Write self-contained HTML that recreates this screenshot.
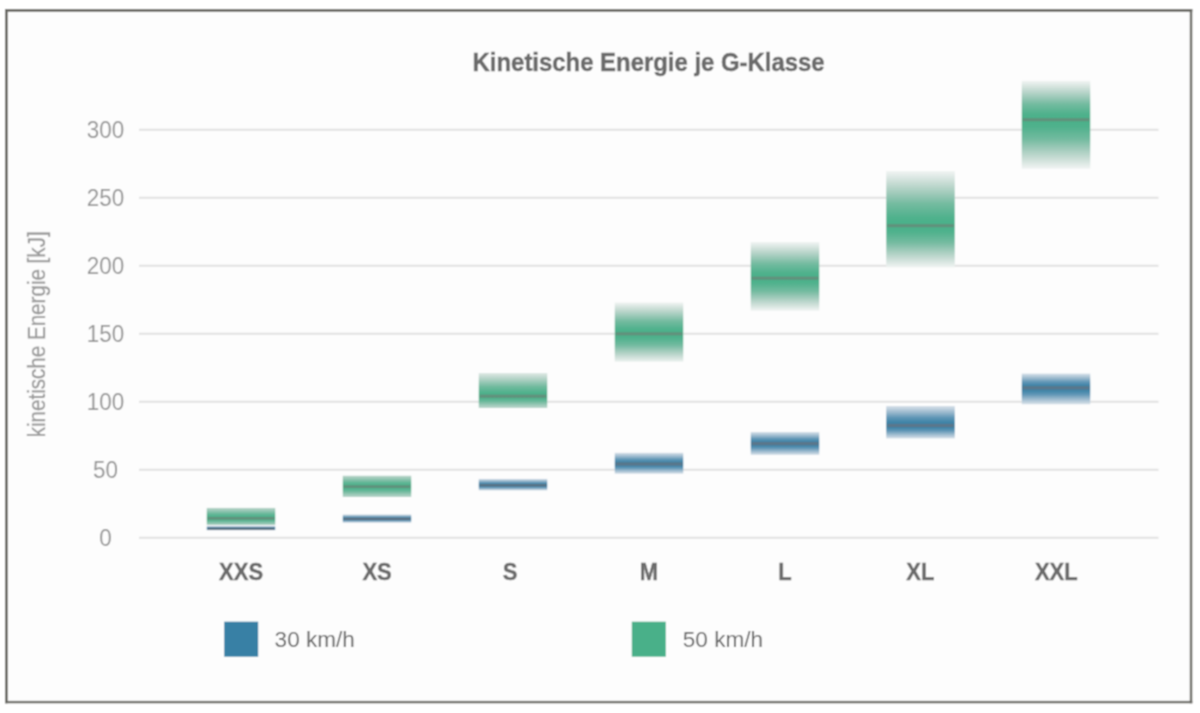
<!DOCTYPE html>
<html><head><meta charset="utf-8"><style>
html,body{margin:0;padding:0;background:#fff;}
svg{display:block;}
text{font-family:"Liberation Sans",sans-serif;}
.yl{font-size:22px;fill:#959595;}
.xl{font-size:22px;font-weight:bold;fill:#6b6b6b;stroke:#6b6b6b;stroke-width:0.4px;}
.lg{font-size:22px;fill:#666666;}
.ttl{font-size:26px;font-weight:bold;fill:#6b6b6b;stroke:#6b6b6b;stroke-width:0.5px;}
.yt{font-size:22.5px;fill:#9a9a9a;stroke:#9a9a9a;stroke-width:0.3px;}
</style></head><body>
<svg width="1200" height="713" viewBox="0 0 1200 713">
<defs><filter id="bl" filterUnits="userSpaceOnUse" x="0" y="0" width="1200" height="713"><feConvolveMatrix order="3" kernelMatrix="1 2 1 2 4 2 1 2 1" divisor="16" edgeMode="duplicate"/></filter><linearGradient id="b0" x1="0" y1="0" x2="0" y2="1"><stop offset="0.0000" stop-color="#5582a7" stop-opacity="0.220"/><stop offset="0.1924" stop-color="#4a81a6" stop-opacity="0.523"/><stop offset="0.3848" stop-color="#3e80a6" stop-opacity="0.827"/><stop offset="0.5451" stop-color="#3880a5" stop-opacity="0.974"/><stop offset="0.6413" stop-color="#3780a5" stop-opacity="1.000"/><stop offset="0.6413" stop-color="#3780a5" stop-opacity="1.000"/><stop offset="0.6951" stop-color="#3880a5" stop-opacity="0.974"/><stop offset="0.7848" stop-color="#3e80a6" stop-opacity="0.827"/><stop offset="0.8924" stop-color="#4a81a6" stop-opacity="0.523"/><stop offset="1.0000" stop-color="#5582a7" stop-opacity="0.220"/></linearGradient><linearGradient id="b1" x1="0" y1="0" x2="0" y2="1"><stop offset="0.0000" stop-color="#5582a7" stop-opacity="0.220"/><stop offset="0.1607" stop-color="#4a81a6" stop-opacity="0.523"/><stop offset="0.3214" stop-color="#3e80a6" stop-opacity="0.827"/><stop offset="0.4554" stop-color="#3880a5" stop-opacity="0.974"/><stop offset="0.5357" stop-color="#3780a5" stop-opacity="1.000"/><stop offset="0.5357" stop-color="#3780a5" stop-opacity="1.000"/><stop offset="0.6054" stop-color="#3880a5" stop-opacity="0.974"/><stop offset="0.7214" stop-color="#3e80a6" stop-opacity="0.827"/><stop offset="0.8607" stop-color="#4a81a6" stop-opacity="0.523"/><stop offset="1.0000" stop-color="#5582a7" stop-opacity="0.220"/></linearGradient><linearGradient id="b2" x1="0" y1="0" x2="0" y2="1"><stop offset="0.0000" stop-color="#5582a7" stop-opacity="0.220"/><stop offset="0.1642" stop-color="#4a81a6" stop-opacity="0.523"/><stop offset="0.3284" stop-color="#3e80a6" stop-opacity="0.827"/><stop offset="0.4653" stop-color="#3880a5" stop-opacity="0.974"/><stop offset="0.5474" stop-color="#3780a5" stop-opacity="1.000"/><stop offset="0.5474" stop-color="#3780a5" stop-opacity="1.000"/><stop offset="0.6153" stop-color="#3880a5" stop-opacity="0.974"/><stop offset="0.7284" stop-color="#3e80a6" stop-opacity="0.827"/><stop offset="0.8642" stop-color="#4a81a6" stop-opacity="0.523"/><stop offset="1.0000" stop-color="#5582a7" stop-opacity="0.220"/></linearGradient><linearGradient id="b3" x1="0" y1="0" x2="0" y2="1"><stop offset="0.0000" stop-color="#5582a7" stop-opacity="0.220"/><stop offset="0.1607" stop-color="#4a81a6" stop-opacity="0.523"/><stop offset="0.3214" stop-color="#3e80a6" stop-opacity="0.827"/><stop offset="0.4554" stop-color="#3880a5" stop-opacity="0.974"/><stop offset="0.5357" stop-color="#3780a5" stop-opacity="1.000"/><stop offset="0.5357" stop-color="#3780a5" stop-opacity="1.000"/><stop offset="0.6054" stop-color="#3880a5" stop-opacity="0.974"/><stop offset="0.7214" stop-color="#3e80a6" stop-opacity="0.827"/><stop offset="0.8607" stop-color="#4a81a6" stop-opacity="0.523"/><stop offset="1.0000" stop-color="#5582a7" stop-opacity="0.220"/></linearGradient><linearGradient id="b4" x1="0" y1="0" x2="0" y2="1"><stop offset="0.0000" stop-color="#5582a7" stop-opacity="0.220"/><stop offset="0.1520" stop-color="#4a81a6" stop-opacity="0.523"/><stop offset="0.3039" stop-color="#3e80a6" stop-opacity="0.827"/><stop offset="0.4306" stop-color="#3880a5" stop-opacity="0.974"/><stop offset="0.5066" stop-color="#3780a5" stop-opacity="1.000"/><stop offset="0.5066" stop-color="#3780a5" stop-opacity="1.000"/><stop offset="0.5806" stop-color="#3880a5" stop-opacity="0.974"/><stop offset="0.7039" stop-color="#3e80a6" stop-opacity="0.827"/><stop offset="0.8520" stop-color="#4a81a6" stop-opacity="0.523"/><stop offset="1.0000" stop-color="#5582a7" stop-opacity="0.220"/></linearGradient><linearGradient id="b5" x1="0" y1="0" x2="0" y2="1"><stop offset="0.0000" stop-color="#5582a7" stop-opacity="0.220"/><stop offset="0.1800" stop-color="#4a81a6" stop-opacity="0.523"/><stop offset="0.3600" stop-color="#3e80a6" stop-opacity="0.827"/><stop offset="0.5100" stop-color="#3880a5" stop-opacity="0.974"/><stop offset="0.6000" stop-color="#3780a5" stop-opacity="1.000"/><stop offset="0.6000" stop-color="#3780a5" stop-opacity="1.000"/><stop offset="0.6600" stop-color="#3880a5" stop-opacity="0.974"/><stop offset="0.7600" stop-color="#3e80a6" stop-opacity="0.827"/><stop offset="0.8800" stop-color="#4a81a6" stop-opacity="0.523"/><stop offset="1.0000" stop-color="#5582a7" stop-opacity="0.220"/></linearGradient><linearGradient id="b6" x1="0" y1="0" x2="0" y2="1"><stop offset="0.0000" stop-color="#5582a7" stop-opacity="0.220"/><stop offset="0.1393" stop-color="#4a81a6" stop-opacity="0.523"/><stop offset="0.2786" stop-color="#3e80a6" stop-opacity="0.827"/><stop offset="0.3946" stop-color="#3880a5" stop-opacity="0.974"/><stop offset="0.4643" stop-color="#3780a5" stop-opacity="1.000"/><stop offset="0.4643" stop-color="#3780a5" stop-opacity="1.000"/><stop offset="0.5446" stop-color="#3880a5" stop-opacity="0.974"/><stop offset="0.6786" stop-color="#3e80a6" stop-opacity="0.827"/><stop offset="0.8393" stop-color="#4a81a6" stop-opacity="0.523"/><stop offset="1.0000" stop-color="#5582a7" stop-opacity="0.220"/></linearGradient><linearGradient id="g0" x1="0" y1="0" x2="0" y2="1"><stop offset="0.0000" stop-color="#5c9f86" stop-opacity="0.409"/><stop offset="0.1825" stop-color="#55a687" stop-opacity="0.639"/><stop offset="0.3649" stop-color="#4dac88" stop-opacity="0.869"/><stop offset="0.5170" stop-color="#4aaf89" stop-opacity="0.980"/><stop offset="0.6082" stop-color="#49b089" stop-opacity="1.000"/><stop offset="0.6082" stop-color="#49b089" stop-opacity="1.000"/><stop offset="0.6670" stop-color="#4aaf89" stop-opacity="0.982"/><stop offset="0.7649" stop-color="#4dad88" stop-opacity="0.883"/><stop offset="0.8825" stop-color="#54a787" stop-opacity="0.677"/><stop offset="1.0000" stop-color="#5aa186" stop-opacity="0.471"/></linearGradient><linearGradient id="g1" x1="0" y1="0" x2="0" y2="1"><stop offset="0.0000" stop-color="#5d9f86" stop-opacity="0.401"/><stop offset="0.1535" stop-color="#55a587" stop-opacity="0.634"/><stop offset="0.3070" stop-color="#4dac88" stop-opacity="0.867"/><stop offset="0.4350" stop-color="#4aaf89" stop-opacity="0.980"/><stop offset="0.5117" stop-color="#49b089" stop-opacity="1.000"/><stop offset="0.5117" stop-color="#49b089" stop-opacity="1.000"/><stop offset="0.5850" stop-color="#4aaf89" stop-opacity="0.980"/><stop offset="0.7070" stop-color="#4dac88" stop-opacity="0.869"/><stop offset="0.8535" stop-color="#55a687" stop-opacity="0.639"/><stop offset="1.0000" stop-color="#5c9f86" stop-opacity="0.409"/></linearGradient><linearGradient id="g2" x1="0" y1="0" x2="0" y2="1"><stop offset="0.0000" stop-color="#649985" stop-opacity="0.194"/><stop offset="0.1989" stop-color="#59a286" stop-opacity="0.508"/><stop offset="0.3977" stop-color="#4fab88" stop-opacity="0.821"/><stop offset="0.5634" stop-color="#4aaf89" stop-opacity="0.973"/><stop offset="0.6629" stop-color="#49b089" stop-opacity="1.000"/><stop offset="0.6629" stop-color="#49b089" stop-opacity="1.000"/><stop offset="0.7134" stop-color="#4aaf89" stop-opacity="0.980"/><stop offset="0.7977" stop-color="#4eac88" stop-opacity="0.864"/><stop offset="0.8989" stop-color="#55a587" stop-opacity="0.625"/><stop offset="1.0000" stop-color="#5d9e86" stop-opacity="0.386"/></linearGradient><linearGradient id="g3" x1="0" y1="0" x2="0" y2="1"><stop offset="0.0000" stop-color="#679684" stop-opacity="0.080"/><stop offset="0.1589" stop-color="#5ca086" stop-opacity="0.438"/><stop offset="0.3177" stop-color="#50aa88" stop-opacity="0.796"/><stop offset="0.4501" stop-color="#4aaf89" stop-opacity="0.969"/><stop offset="0.5295" stop-color="#49b089" stop-opacity="1.000"/><stop offset="0.5295" stop-color="#49b089" stop-opacity="1.000"/><stop offset="0.6001" stop-color="#4aaf89" stop-opacity="0.971"/><stop offset="0.7177" stop-color="#4faa88" stop-opacity="0.803"/><stop offset="0.8589" stop-color="#5ba086" stop-opacity="0.459"/><stop offset="1.0000" stop-color="#669784" stop-opacity="0.115"/></linearGradient><linearGradient id="g4" x1="0" y1="0" x2="0" y2="1"><stop offset="0.0000" stop-color="#679684" stop-opacity="0.080"/><stop offset="0.1578" stop-color="#5ca086" stop-opacity="0.438"/><stop offset="0.3157" stop-color="#50aa88" stop-opacity="0.796"/><stop offset="0.4472" stop-color="#4aaf89" stop-opacity="0.969"/><stop offset="0.5262" stop-color="#49b089" stop-opacity="1.000"/><stop offset="0.5262" stop-color="#49b089" stop-opacity="1.000"/><stop offset="0.5972" stop-color="#4aaf89" stop-opacity="0.969"/><stop offset="0.7157" stop-color="#50aa88" stop-opacity="0.796"/><stop offset="0.8578" stop-color="#5ca086" stop-opacity="0.438"/><stop offset="1.0000" stop-color="#679684" stop-opacity="0.080"/></linearGradient><linearGradient id="g5" x1="0" y1="0" x2="0" y2="1"><stop offset="0.0000" stop-color="#679684" stop-opacity="0.080"/><stop offset="0.1701" stop-color="#5ca086" stop-opacity="0.438"/><stop offset="0.3401" stop-color="#50aa88" stop-opacity="0.796"/><stop offset="0.4818" stop-color="#4aaf89" stop-opacity="0.969"/><stop offset="0.5668" stop-color="#49b089" stop-opacity="1.000"/><stop offset="0.5668" stop-color="#49b089" stop-opacity="1.000"/><stop offset="0.6318" stop-color="#4aaf89" stop-opacity="0.969"/><stop offset="0.7401" stop-color="#50aa88" stop-opacity="0.796"/><stop offset="0.8701" stop-color="#5ca086" stop-opacity="0.438"/><stop offset="1.0000" stop-color="#679684" stop-opacity="0.080"/></linearGradient><linearGradient id="g6" x1="0" y1="0" x2="0" y2="1"><stop offset="0.0000" stop-color="#679684" stop-opacity="0.080"/><stop offset="0.1326" stop-color="#5ca086" stop-opacity="0.438"/><stop offset="0.2652" stop-color="#50aa88" stop-opacity="0.796"/><stop offset="0.3757" stop-color="#4aaf89" stop-opacity="0.969"/><stop offset="0.4420" stop-color="#49b089" stop-opacity="1.000"/><stop offset="0.4420" stop-color="#49b089" stop-opacity="1.000"/><stop offset="0.5257" stop-color="#4aaf89" stop-opacity="0.969"/><stop offset="0.6652" stop-color="#50aa88" stop-opacity="0.796"/><stop offset="0.8326" stop-color="#5ca086" stop-opacity="0.438"/><stop offset="1.0000" stop-color="#679684" stop-opacity="0.080"/></linearGradient></defs>
<g filter="url(#bl)">
<rect x="0" y="0" width="1200" height="713" fill="#ffffff"/>
<rect x="6" y="10" width="1185" height="692" fill="#fdfdfd"/><rect x="5" y="9" width="2.8" height="694.3" fill="#6b6a65"/><rect x="5" y="9" width="1187.3" height="2.8" fill="#6b6a65"/><rect x="1189.8" y="9" width="2.5" height="694.3" fill="#6b6a65"/><rect x="5" y="700.9" width="1187.3" height="2.4" fill="#6b6a65"/>
<text x="648.6" y="71" text-anchor="middle" class="ttl" textLength="352" lengthAdjust="spacingAndGlyphs">Kinetische Energie je G-Klasse</text>
<text transform="translate(45,334.35) rotate(-90) scale(1,1.05)" text-anchor="middle" class="yt" textLength="206" lengthAdjust="spacingAndGlyphs">kinetische Energie [kJ]</text>
<rect x="139" y="536.80" width="1019.5" height="2" fill="#e1e1e1"/><rect x="139" y="468.80" width="1019.5" height="2" fill="#e1e1e1"/><rect x="139" y="400.80" width="1019.5" height="2" fill="#e1e1e1"/><rect x="139" y="332.80" width="1019.5" height="2" fill="#e1e1e1"/><rect x="139" y="264.80" width="1019.5" height="2" fill="#e1e1e1"/><rect x="139" y="196.80" width="1019.5" height="2" fill="#e1e1e1"/><rect x="139" y="128.80" width="1019.5" height="2" fill="#e1e1e1"/>
<text transform="translate(105.4,546.10) scale(1.02,1.1)" text-anchor="middle" class="yl">0</text><text transform="translate(105.4,478.10) scale(1.02,1.1)" text-anchor="middle" class="yl">50</text><text transform="translate(105.4,410.10) scale(1.02,1.1)" text-anchor="middle" class="yl">100</text><text transform="translate(105.4,342.10) scale(1.02,1.1)" text-anchor="middle" class="yl">150</text><text transform="translate(105.4,274.10) scale(1.02,1.1)" text-anchor="middle" class="yl">200</text><text transform="translate(105.4,206.10) scale(1.02,1.1)" text-anchor="middle" class="yl">250</text><text transform="translate(105.4,138.10) scale(1.02,1.1)" text-anchor="middle" class="yl">300</text>
<rect x="206.75" y="525.80" width="68.5" height="4.60" fill="#fdfdfd"/><rect x="206.75" y="525.80" width="68.5" height="4.60" fill="url(#b0)"/><rect x="207.75" y="527.65" width="66.5" height="2.2" fill="#5c7080"/><rect x="342.75" y="514.40" width="68.5" height="8.40" fill="#fdfdfd"/><rect x="342.75" y="514.40" width="68.5" height="8.40" fill="url(#b1)"/><rect x="343.75" y="517.80" width="66.5" height="2.2" fill="#5c7080"/><rect x="478.75" y="478.90" width="68.5" height="11.60" fill="#fdfdfd"/><rect x="478.75" y="478.90" width="68.5" height="11.60" fill="url(#b2)"/><rect x="479.75" y="484.15" width="66.5" height="2.2" fill="#5c7080"/><rect x="614.75" y="452.75" width="68.5" height="21.00" fill="#fdfdfd"/><rect x="614.75" y="452.75" width="68.5" height="21.00" fill="url(#b3)"/><rect x="615.75" y="462.35" width="66.5" height="3.3" fill="#5a778b"/><rect x="750.75" y="432.00" width="68.5" height="22.90" fill="#fdfdfd"/><rect x="750.75" y="432.00" width="68.5" height="22.90" fill="url(#b4)"/><rect x="751.75" y="441.95" width="66.5" height="3.3" fill="#5a778b"/><rect x="886.25" y="406.00" width="68.5" height="32.50" fill="#fdfdfd"/><rect x="886.25" y="406.00" width="68.5" height="32.50" fill="url(#b5)"/><rect x="887.25" y="423.85" width="66.5" height="3.3" fill="#5a778b"/><rect x="1021.75" y="373.50" width="68.5" height="30.80" fill="#fdfdfd"/><rect x="1021.75" y="373.50" width="68.5" height="30.80" fill="url(#b6)"/><rect x="1022.75" y="386.15" width="66.5" height="3.3" fill="#5a778b"/><rect x="206.75" y="507.90" width="68.5" height="17.10" fill="#fdfdfd"/><rect x="206.75" y="507.90" width="68.5" height="17.10" fill="url(#g0)"/><rect x="207.75" y="517.00" width="66.5" height="2.6" fill="#62907b"/><rect x="342.75" y="475.70" width="68.5" height="21.30" fill="#fdfdfd"/><rect x="342.75" y="475.70" width="68.5" height="21.30" fill="url(#g1)"/><rect x="343.75" y="485.30" width="66.5" height="2.6" fill="#62907b"/><rect x="478.75" y="373.00" width="68.5" height="35.00" fill="#fdfdfd"/><rect x="478.75" y="373.00" width="68.5" height="35.00" fill="url(#g2)"/><rect x="479.75" y="394.70" width="66.5" height="3" fill="#62907b"/><rect x="614.75" y="302.40" width="68.5" height="59.30" fill="#fdfdfd"/><rect x="614.75" y="302.40" width="68.5" height="59.30" fill="url(#g3)"/><rect x="615.75" y="332.30" width="66.5" height="3" fill="#62907b"/><rect x="750.75" y="242.00" width="68.5" height="68.80" fill="#fdfdfd"/><rect x="750.75" y="242.00" width="68.5" height="68.80" fill="url(#g4)"/><rect x="751.75" y="276.70" width="66.5" height="3" fill="#62907b"/><rect x="886.25" y="171.00" width="68.5" height="96.50" fill="#fdfdfd"/><rect x="886.25" y="171.00" width="68.5" height="96.50" fill="url(#g5)"/><rect x="887.25" y="224.20" width="66.5" height="3" fill="#62907b"/><rect x="1021.75" y="80.80" width="68.5" height="88.00" fill="#fdfdfd"/><rect x="1021.75" y="80.80" width="68.5" height="88.00" fill="url(#g6)"/><rect x="1022.75" y="118.20" width="66.5" height="3" fill="#62907b"/>
<text transform="translate(241.05,579.6) scale(1,1.1)" text-anchor="middle" class="xl">XXS</text><text transform="translate(377.1,579.6) scale(1,1.1)" text-anchor="middle" class="xl">XS</text><text transform="translate(510.2,579.6) scale(1,1.1)" text-anchor="middle" class="xl">S</text><text transform="translate(648.9,579.6) scale(1,1.1)" text-anchor="middle" class="xl">M</text><text transform="translate(785.0,579.6) scale(1,1.1)" text-anchor="middle" class="xl">L</text><text transform="translate(920.4,579.6) scale(1,1.1)" text-anchor="middle" class="xl">XL</text><text transform="translate(1056.25,579.6) scale(1,1.1)" text-anchor="middle" class="xl">XXL</text>
<rect x="224.2" y="621.7" width="34" height="35" fill="#3780a5"/>
<text transform="translate(274.6,647.3) scale(1.025,1.02)" class="lg">30 km/h</text>
<rect x="631.8" y="621.7" width="34" height="35" fill="#49b089"/>
<text transform="translate(682.8,647.3) scale(1.025,1.02)" class="lg">50 km/h</text>
</g></svg>
</body></html>
